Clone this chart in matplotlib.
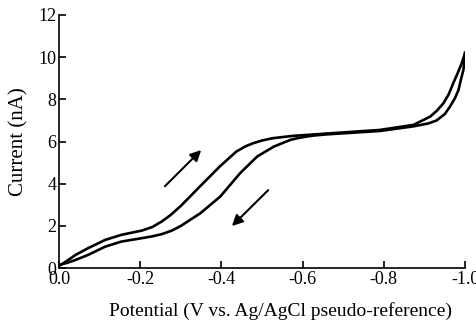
import matplotlib.pyplot as plt

plt.rcParams['font.family'] = ['Liberation Serif', 'DejaVu Serif']

# forward scan (0 -> -1.0 V), upper/left branch
fwd_x = [0.0, -0.02, -0.041, -0.072, -0.114, -0.154, -0.204, -0.23, -0.253,
         -0.275, -0.30, -0.347, -0.396, -0.437, -0.46, -0.478, -0.50, -0.527,
         -0.577, -0.66, -0.79, -0.873, -0.914, -0.93, -0.947, -0.96, -0.971,
         -0.982, -0.992, -1.0]
fwd_y = [0.1, 0.35, 0.63, 0.95, 1.34, 1.58, 1.78, 1.95, 2.21,
         2.52, 2.95, 3.87, 4.82, 5.53, 5.78, 5.92, 6.05, 6.16,
         6.27, 6.38, 6.55, 6.79, 7.18, 7.45, 7.82, 8.25, 8.77,
         9.25, 9.72, 10.2]

# reverse scan (-1.0 -> 0 V), lower/right branch
rev_x = [-1.0, -0.996, -0.99, -0.984, -0.975, -0.963, -0.95, -0.93, -0.91,
         -0.873, -0.79, -0.66, -0.63, -0.611, -0.59, -0.57, -0.529, -0.488,
         -0.446, -0.397, -0.348, -0.30, -0.278, -0.253, -0.228, -0.204,
         -0.154, -0.114, -0.072, -0.041, -0.02, 0.0]
rev_y = [10.2, 9.4, 8.95, 8.45, 8.05, 7.66, 7.3, 7.0, 6.86,
         6.72, 6.5, 6.34, 6.29, 6.24, 6.17, 6.08, 5.76, 5.29,
         4.5, 3.39, 2.6, 2.0, 1.78, 1.61, 1.5, 1.42,
         1.26, 1.02, 0.63, 0.39, 0.25, 0.15]

fig = plt.figure(figsize=(4.76, 3.25), dpi=100)
ax = fig.add_axes([0.124, 0.175, 0.853, 0.779])

ax.plot(fwd_x, fwd_y, color='black', lw=1.9, solid_joinstyle='round')
ax.plot(rev_x, rev_y, color='black', lw=1.9, solid_joinstyle='round')

# scan direction arrows
arrow = dict(arrowstyle='-|>', color='black', lw=1.5, mutation_scale=16)
ax.annotate('', xy=(-0.355, 5.69), xytext=(-0.256, 3.79), arrowprops=arrow)
ax.annotate('', xy=(-0.421, 1.90), xytext=(-0.52, 3.79), arrowprops=arrow)

ax.set_xlim(0, -1.0)
ax.set_ylim(0, 12)
ax.set_xticks([0.0, -0.2, -0.4, -0.6, -0.8, -1.0])
ax.set_xticklabels(['0.0', '-0.2', '-0.4', '-0.6', '-0.8', '-1.0'])
ax.set_yticks([0, 2, 4, 6, 8, 10, 12])

for s in ['top', 'right']:
    ax.spines[s].set_visible(False)
for s in ['left', 'bottom']:
    ax.spines[s].set_linewidth(1.2)
ax.tick_params(direction='in', length=5, width=1.2, labelsize=13, pad=2)

ax.set_xlabel('Potential (V vs. Ag/AgCl pseudo-reference)', fontsize=14)
ax.xaxis.set_label_coords(0.545, -0.135)
ax.set_ylabel('Current (nA)', fontsize=15, labelpad=7)

fig.savefig('out.png', dpi=100)
